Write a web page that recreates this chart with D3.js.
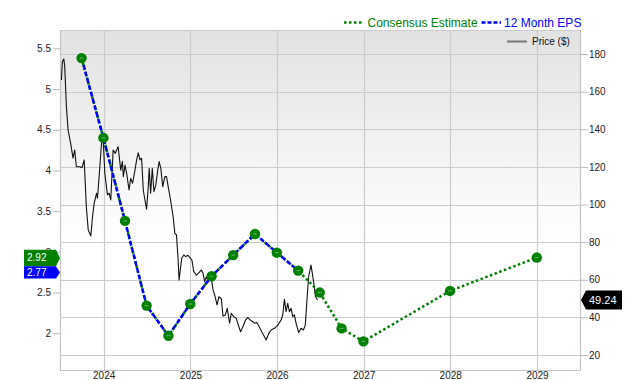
<!DOCTYPE html>
<html>
<head>
<meta charset="utf-8">
<script src="https://cdn.jsdelivr.net/npm/d3@7"></script>
<style>
  html, body { margin: 0; padding: 0; background: #fff; }
  svg { display: block; font-family: "Liberation Sans", Arial, sans-serif; }
</style>
</head>
<body>
<svg id="chart" width="640" height="380"></svg>
<script>
// ---------- DATA ----------
const epsDates = ["2023-09-30","2023-12-31","2024-03-31","2024-06-30","2024-09-30","2024-12-31",
  "2025-03-31","2025-06-30","2025-09-30","2025-12-31","2026-03-31","2026-06-30",
  "2026-09-30","2026-12-31","2027-12-31","2028-12-31"];
const epsValues = [5.38, 4.40, 3.38, 2.34, 1.97, 2.36, 2.70, 2.96, 3.22, 2.99, 2.77, 2.50, 2.06, 1.90, 2.52, 2.93];
const actualCount = 11; // first 11 points are reported 12-month EPS

const priceDates = ["2023-07-07","2023-07-11","2023-07-17","2023-07-21","2023-07-28","2023-08-04","2023-08-15",
  "2023-08-25","2023-09-01","2023-09-08","2023-09-22","2023-10-02","2023-10-11","2023-10-20","2023-10-28",
  "2023-11-08","2023-11-15","2023-11-22","2023-12-02","2023-12-06","2023-12-16","2023-12-23","2023-12-30",
  "2024-01-06","2024-01-17","2024-01-24","2024-01-31","2024-02-10","2024-02-19","2024-03-02","2024-03-13",
  "2024-03-20","2024-03-24","2024-03-31","2024-04-07","2024-04-17","2024-04-24","2024-05-02","2024-05-12",
  "2024-05-19","2024-05-26","2024-06-02","2024-06-09","2024-06-16","2024-06-23","2024-06-30","2024-07-07",
  "2024-07-11","2024-07-17","2024-07-24","2024-07-31","2024-08-08","2024-08-16","2024-08-22","2024-08-29",
  "2024-09-06","2024-09-15","2024-09-22","2024-09-29","2024-10-09","2024-10-20","2024-10-27","2024-11-03",
  "2024-11-10","2024-11-14","2024-11-25","2024-12-04","2024-12-12","2024-12-21","2024-12-29","2025-01-07",
  "2025-01-15","2025-01-26","2025-02-06","2025-02-16","2025-02-23","2025-03-02","2025-03-09","2025-03-16",
  "2025-03-31","2025-04-06","2025-04-13","2025-04-23","2025-05-01","2025-05-11","2025-05-18","2025-05-28",
  "2025-06-05","2025-06-15","2025-06-22","2025-07-02","2025-07-13","2025-07-24","2025-07-31","2025-08-10",
  "2025-08-21","2025-08-31","2025-09-10","2025-09-21","2025-09-28","2025-10-08","2025-10-16","2025-10-26",
  "2025-11-05","2025-11-16","2025-11-27","2025-12-07","2025-12-21","2026-01-04","2026-01-18","2026-01-25",
  "2026-02-01","2026-02-08","2026-02-15","2026-02-22","2026-03-01","2026-03-08","2026-03-15","2026-03-22",
  "2026-04-02","2026-04-12","2026-04-22","2026-04-30","2026-05-06","2026-05-14","2026-05-24","2026-06-03",
  "2026-06-12","2026-06-21"];
const priceValues = [166.2,175.9,177.4,173.3,152.0,139.6,132.5,
  124.6,129.0,120.1,120.1,119.6,123.7,98.8,86.5,
  83.3,93.5,100.6,106.0,103.3,120.1,132.5,134.3,
  116.6,105.1,106.0,102.4,129.0,127.2,130.7,118.3,
  122.8,114.8,121.0,116.6,107.7,113.9,111.3,118.3,
  123.7,127.5,123.7,124.6,107.7,102.4,97.5,109.5,
  119.2,106.0,119.2,106.8,110.4,118.3,122.8,119.2,
  109.5,114.8,114.8,109.5,102.4,93.5,84.7,83.8,
  70.5,59.9,71.4,73.2,72.3,73.0,71.9,70.5,
  64.3,62.5,63.8,65.2,63.4,59.0,61.6,59.9,
  59.9,54.6,51.9,46.6,51.0,50.1,40.7,41.3,
  44.8,36.9,42.2,40.4,39.5,35.0,32.4,35.0,
  38.6,40.0,38.6,37.7,36.9,37.2,35.4,32.9,
  30.6,28.0,31.5,33.3,34.2,35.9,38.6,41.3,
  49.6,43.0,47.5,43.0,44.8,40.4,41.3,36.9,
  31.9,34.2,33.3,35.9,47.5,61.6,67.8,59.9,
  51.0,49.24];

const epsTicks = [2, 2.5, 3, 3.5, 4, 4.5, 5, 5.5];
const priceTicks = [20, 40, 60, 80, 100, 120, 140, 160, 180];
const yearTicks = ["2024", "2025", "2026", "2027", "2028", "2029"];

const lastPriceLabel = "49.24";
const consensusLabel = 2.92;
const epsLabel = 2.77;

const legendItems = ["Consensus Estimate", "12 Month EPS"];
const priceLegend = "Price ($)";

// ---------- LAYOUT ----------
const L = 60, R = 580, T = 30, B = 370;
const parse = d3.timeParse("%Y-%m-%d");

const x = d3.scaleTime()
  .domain([parse("2023-07-01"), parse("2029-07-01")])
  .range([L, R]);
const yEps = d3.scaleLinear().domain([1.549, 5.725]).range([B, T]);
const yPrice = d3.scaleLinear().domain([12.03, 192.76]).range([B, T]);

const svg = d3.select("#chart");

const defs = svg.append("defs");
const grad = defs.append("linearGradient").attr("id", "bg")
  .attr("x1", 0).attr("y1", 0).attr("x2", 0).attr("y2", 1);
grad.append("stop").attr("offset", "0%").attr("stop-color", "#e2e2e2");
grad.append("stop").attr("offset", "62%").attr("stop-color", "#ffffff");
grad.append("stop").attr("offset", "100%").attr("stop-color", "#ffffff");

svg.append("rect").attr("x", L).attr("y", T).attr("width", R - L).attr("height", B - T)
  .attr("fill", "url(#bg)");

const gridColor = "#cccccc";
// horizontal grid at price ticks
svg.append("g").selectAll("line").data(priceTicks).join("line")
  .attr("x1", L).attr("x2", R)
  .attr("y1", d => Math.round(yPrice(d)) + 0.5).attr("y2", d => Math.round(yPrice(d)) + 0.5)
  .attr("stroke", gridColor).attr("stroke-width", 1);
// vertical grid at years
svg.append("g").selectAll("line").data(yearTicks).join("line")
  .attr("x1", d => Math.round(x(parse(d + "-01-01"))) + 0.5)
  .attr("x2", d => Math.round(x(parse(d + "-01-01"))) + 0.5)
  .attr("y1", T).attr("y2", B)
  .attr("stroke", gridColor).attr("stroke-width", 1.2);

// frame
svg.append("path")
  .attr("d", `M${L + 0.5},${T} V${B + 0.5} H${R + 0.5} V${T}`)
  .attr("fill", "none").attr("stroke", "#c4c4c4").attr("stroke-width", 1.2);
svg.append("line").attr("x1", L).attr("x2", R).attr("y1", T + 0.5).attr("y2", T + 0.5)
  .attr("stroke", "#cccccc");

// axes
const tickColor = "#bbbbbb";
const textColor = "#222";
const leftAxis = svg.append("g").attr("transform", `translate(${L},0)`)
  .call(d3.axisLeft(yEps).tickValues(epsTicks).tickSize(7).tickPadding(2).tickFormat(d3.format("")));
leftAxis.select(".domain").remove();
leftAxis.selectAll(".tick line").attr("stroke", tickColor);
leftAxis.selectAll(".tick text").attr("fill", textColor)
  .style("font-family", "Liberation Sans, Arial, sans-serif").style("font-size", "10px");

const rightAxis = svg.append("g").attr("transform", `translate(${R},0)`)
  .call(d3.axisRight(yPrice).tickValues(priceTicks).tickSize(8).tickPadding(1));
rightAxis.select(".domain").remove();
rightAxis.selectAll(".tick line").attr("stroke", tickColor);
rightAxis.selectAll(".tick text").attr("fill", textColor)
  .style("font-family", "Liberation Sans, Arial, sans-serif").style("font-size", "10px");

const bottomAxis = svg.append("g").attr("transform", `translate(0,${B})`)
  .call(d3.axisBottom(x).tickValues(yearTicks.map(d => parse(d + "-01-01")))
    .tickSize(0).tickPadding(2).tickFormat(d3.timeFormat("%Y")));
bottomAxis.select(".domain").remove();
bottomAxis.selectAll(".tick text").attr("fill", textColor)
  .style("font-family", "Liberation Sans, Arial, sans-serif").style("font-size", "10px");

// price line
const priceData = priceDates.map((d, i) => ({ date: parse(d), v: priceValues[i] }));
svg.append("path").datum(priceData)
  .attr("d", d3.line().x(d => x(d.date)).y(d => yPrice(d.v)))
  .attr("fill", "none").attr("stroke", "#111").attr("stroke-width", 1.1)
  .attr("stroke-linejoin", "round");

// EPS lines
const epsData = epsDates.map((d, i) => ({ date: parse(d), v: epsValues[i] }));
const epsLine = d3.line().x(d => x(d.date)).y(d => yEps(d.v));
svg.append("path").datum(epsData).attr("d", epsLine)
  .attr("fill", "none").attr("stroke", "#008000").attr("stroke-width", 2.5)
  .attr("stroke-dasharray", "2.5,2.5");
svg.append("path").datum(epsData.slice(0, actualCount)).attr("d", epsLine)
  .attr("fill", "none").attr("stroke", "#0000ff").attr("stroke-width", 2.5)
  .attr("stroke-dasharray", "5,2");

// EPS dots
const dots = svg.append("g").selectAll("g").data(epsData).join("g")
  .attr("transform", d => `translate(${x(d.date)},${yEps(d.v)})`);
dots.append("circle").attr("r", 5.2).attr("fill", "#008000");
dots.append("line").attr("x1", -2).attr("x2", 2).attr("y1", 0).attr("y2", 0)
  .attr("stroke", "#66b266").attr("stroke-width", 1);

// left value labels
function leftFlag(val, color, yTop, yBot, size) {
  const xl = 24, xr = 56, tip = 60;
  const yc = (yTop + yBot) / 2;
  svg.append("path")
    .attr("d", `M${xl},${yTop} H${xr} L${tip},${yc} L${xr},${yBot} H${xl} Z`)
    .attr("fill", color);
  svg.append("text").attr("x", 27).attr("y", yc + 3.4)
    .attr("fill", "#fff").style("font-size", size).text(d3.format(".2f")(val));
}
const gY = yEps(consensusLabel), bY = yEps(epsLabel);
leftFlag(consensusLabel, "#008000", gY - 8.7, bY - 4.3, "10px");
leftFlag(epsLabel, "#0000ff", bY - 4.3, bY + 8, "10px");

// right price flag
const pY = yPrice(+lastPriceLabel);
svg.append("path")
  .attr("d", `M581,${pY} L586,${pY - 9.5} H622 V${pY + 9.5} H586 Z`)
  .attr("fill", "#000");
svg.append("text").attr("x", 589).attr("y", pY + 4).attr("fill", "#fff")
  .style("font-size", "11px").text(lastPriceLabel);

// legend
const lg = svg.append("g");
lg.append("line").attr("x1", 344).attr("x2", 363).attr("y1", 22.5).attr("y2", 22.5)
  .attr("stroke", "#008000").attr("stroke-width", 2.5).attr("stroke-dasharray", "2.5,2.5");
lg.append("text").attr("x", 367.5).attr("y", 27).attr("fill", "#008000")
  .style("font-size", "12px").text(legendItems[0]);
lg.append("line").attr("x1", 481.5).attr("x2", 501).attr("y1", 22.5).attr("y2", 22.5)
  .attr("stroke", "#0000ff").attr("stroke-width", 2.5).attr("stroke-dasharray", "4,2");
lg.append("text").attr("x", 504).attr("y", 27).attr("fill", "#0000ff")
  .style("font-size", "12px").text(legendItems[1]);
lg.append("line").attr("x1", 507).attr("x2", 527).attr("y1", 41.5).attr("y2", 41.5)
  .attr("stroke", "#777").attr("stroke-width", 2);
lg.append("text").attr("x", 532).attr("y", 45).attr("fill", "#111")
  .style("font-size", "10px").text(priceLegend);
</script>
</body>
</html>
